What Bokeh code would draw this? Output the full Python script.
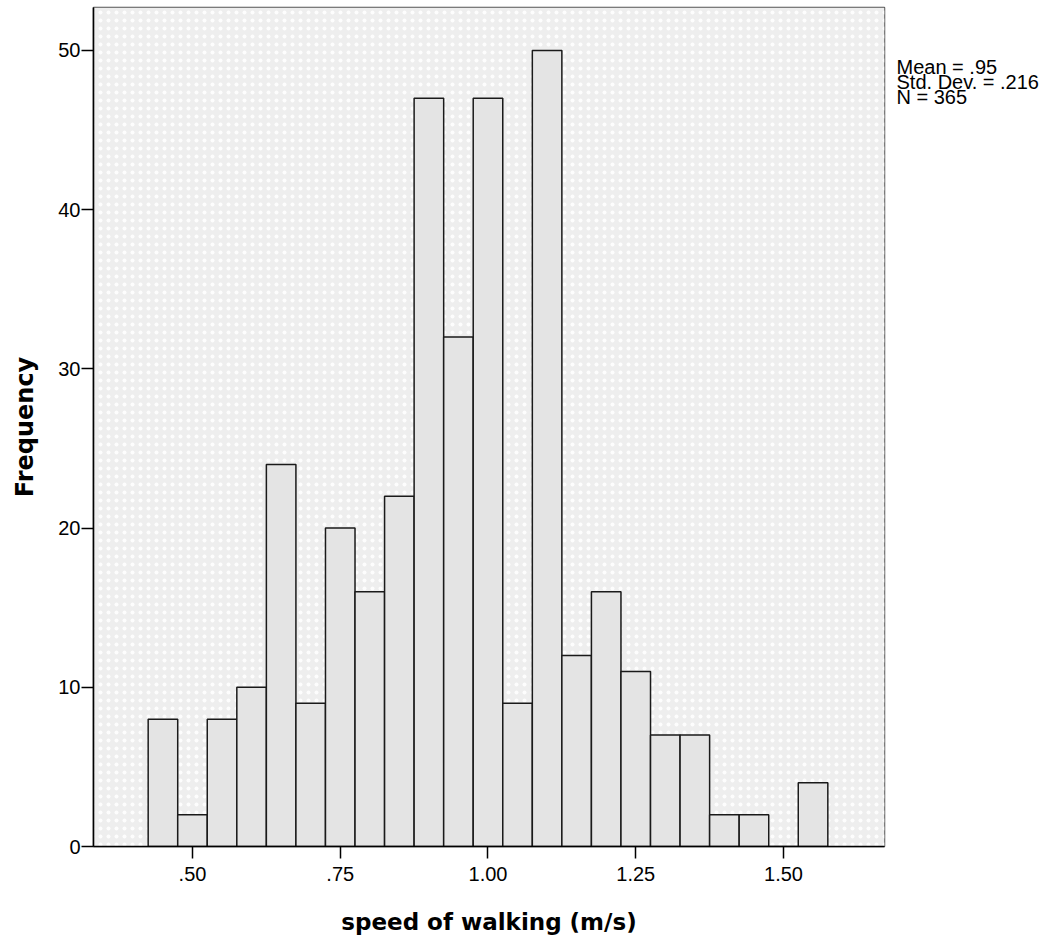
from bokeh.plotting import figure
from bokeh.models import FixedTicker, Range1d
from bokeh.layouts import row
from bokeh.core.properties import value
from bokeh.embed import file_html
from bokeh.resources import INLINE

# Data
bin_centers = [0.45, 0.50, 0.55, 0.60, 0.65, 0.70, 0.75, 0.80, 0.85, 0.90, 0.95, 1.00,
               1.05, 1.10, 1.15, 1.20, 1.25, 1.30, 1.35, 1.40, 1.45, 1.50, 1.55]
frequencies = [8, 2, 8, 10, 24, 9, 20, 16, 22, 47, 32, 47,
               9, 50, 12, 16, 11, 7, 7, 2, 2, 0, 4]
bin_width = 0.05
x_ticks = [0.50, 0.75, 1.00, 1.25, 1.50]
x_tick_labels = [".50", ".75", "1.00", "1.25", "1.50"]
y_ticks = [0, 10, 20, 30, 40, 50]
stats_lines = ["Mean = .95", "Std. Dev. = .216", "N = 365"]
x_title = "speed of walking (m/s)"
y_title = "Frequency"

H = 940
x0, x1 = 0.3325, 1.6709
y0, y1 = 0.0, 52.70

p = figure(width=890, height=H, output_backend="svg", toolbar_location=None,
           x_range=Range1d(x0, x1), y_range=Range1d(y0, y1),
           min_border_left=93, min_border_right=6, min_border_top=7, min_border_bottom=94)

p.background_fill_color = "#eeeeee"
p.border_fill_color = "white"
p.outline_line_color = "#555555"
p.outline_line_width = 1.5
p.xgrid.visible = False
p.ygrid.visible = False

# dotted texture of the plot background
p.quad(left=[x0], right=[x1], bottom=[y0], top=[y1], fill_color="#eeeeee", line_color=None,
       hatch_pattern="dot", hatch_color="white", hatch_scale=8, hatch_weight=1.2, hatch_alpha=0.9)

lefts = [c - bin_width / 2 for c in bin_centers]
rights = [c + bin_width / 2 for c in bin_centers]
p.quad(left=lefts, right=rights, bottom=[0] * len(frequencies), top=frequencies,
       fill_color="#e4e4e4", line_color="#1a1a1a", line_width=1.5)

for ax in (p.xaxis[0], p.yaxis[0]):
    ax.axis_line_color = "black"
    ax.axis_line_width = 1.6
    ax.major_tick_line_color = "black"
    ax.major_tick_line_width = 1.5
    ax.major_tick_out = 12
    ax.major_tick_in = 0
    ax.minor_tick_line_color = None
    ax.major_label_text_font = "Liberation Sans"
    ax.major_label_text_font_size = "20px"
    ax.major_label_text_color = "black"
    ax.axis_label_text_font = "DejaVu Sans"
    ax.axis_label_text_font_style = "bold"
    ax.axis_label_text_color = "black"

p.xaxis.ticker = FixedTicker(ticks=x_ticks)
p.xaxis.major_label_overrides = {t: l for t, l in zip(x_ticks, x_tick_labels)}
p.xaxis.axis_label = x_title
p.xaxis.axis_label_text_font_size = "23px"
p.xaxis.major_label_standoff = 8
p.xaxis.axis_label_standoff = 25

p.yaxis.ticker = FixedTicker(ticks=y_ticks)
p.yaxis.axis_label = y_title
p.yaxis.axis_label_text_font_size = "24px"
p.yaxis.major_label_standoff = 1
p.yaxis.axis_label_standoff = 16

# side panel with the summary statistics (pixel-like coordinates, y from the top)
s = figure(width=156, height=H, output_backend="svg", toolbar_location=None,
           x_range=Range1d(0, 156), y_range=Range1d(H, 0),
           x_axis_location=None, y_axis_location=None,
           min_border_left=0, min_border_right=0, min_border_top=0, min_border_bottom=0)
s.outline_line_color = None
s.background_fill_color = "white"
s.border_fill_color = "white"
s.xgrid.visible = False
s.ygrid.visible = False
stat_baselines = [66.7, 83.3, 100.0]
s.text(x=[6] * len(stats_lines), y=stat_baselines, text=stats_lines,
       text_font=value("Liberation Sans"), text_font_size="20px", text_color="black",
       text_baseline="alphabetic", text_align="left")

layout = row(p, s)
open("out.html", "w").write(file_html(layout, INLINE))
